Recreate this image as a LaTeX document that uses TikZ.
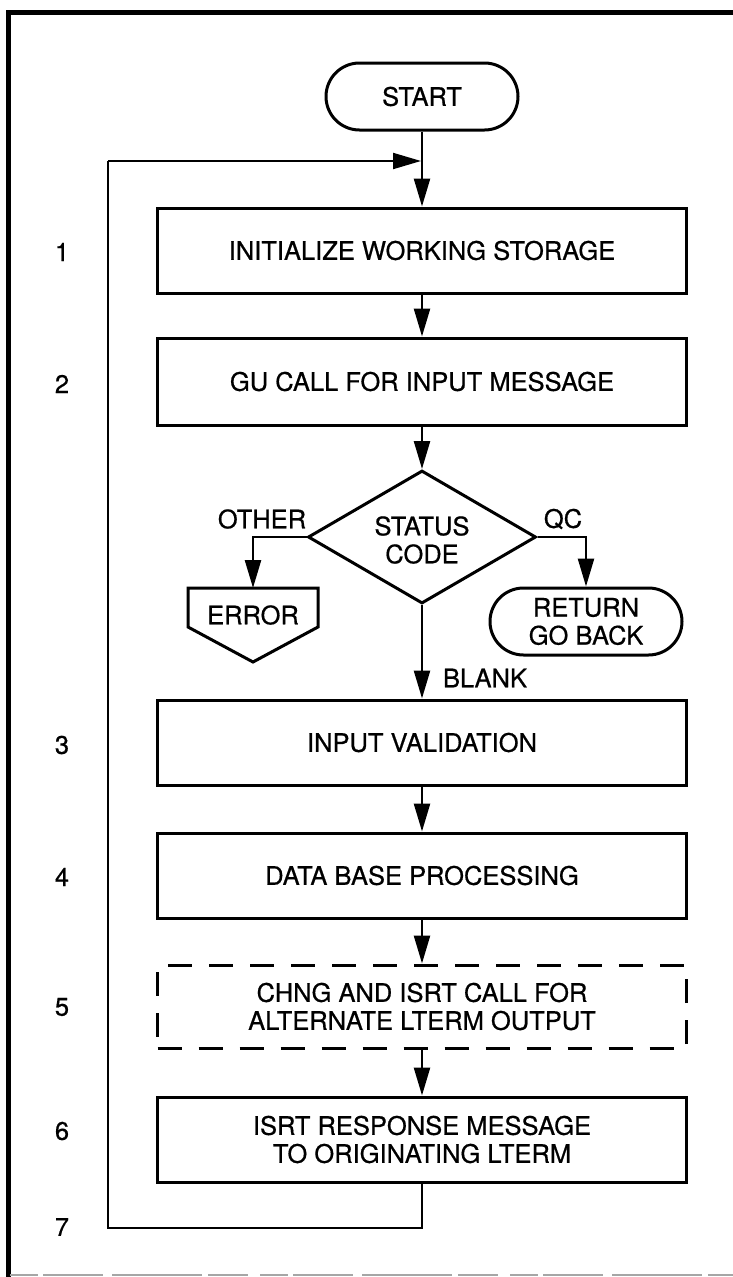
\documentclass[tikz,border=0pt]{standalone}
\usepackage{fontspec}
\setmainfont{TeX Gyre Heros}[FakeBold=0.6]
\usetikzlibrary{arrows.meta,shapes.geometric,shapes.misc}
\begin{document}
\begin{tikzpicture}[x=1pt,y=-1pt,
  txt/.style={font=\fontsize{25.5}{28}\selectfont, align=center, inner sep=0pt},
  procbox/.style={txt, draw, line width=3pt, minimum width=529pt, minimum height=85pt},
  dashbox/.style={procbox, dash pattern=on 24pt off 17pt, dash phase=0pt},
  termbox/.style={txt, draw, line width=3pt, rounded rectangle, minimum width=192pt, minimum height=67pt},
  decbox/.style={draw, line width=3pt, diamond, minimum width=228pt, minimum height=133pt, inner sep=0pt},
  arr/.style={line width=2.5pt, -{Triangle[length=28pt,width=16pt]}},
  loopline/.style={line width=2pt},
  numlab/.style={txt}
]
\useasboundingbox (0,0) rectangle (733,1277);
% frame
\draw[line width=5pt] (8,1277) -- (8,12) -- (733,12);
\draw[black!35, line width=2pt, dash pattern=on 28pt off 5pt on 60pt off 9pt on 90pt off 6pt on 40pt off 12pt] (10,1275) -- (733,1275);

% nodes
\node[termbox] (start) at (422,96.5) {START};
\node[procbox] (b1) at (422,250.5) {INITIALIZE WORKING STORAGE};
\node[procbox, minimum height=87pt] (b2) at (422,381.5) {GU CALL FOR INPUT MESSAGE};
\node[decbox] (dec) at (422,537) {};
\node[txt] (dectxt) at (422,540) {STATUS\\CODE};
\node[txt] (other) at (262,519) {OTHER};
\node[txt] (qc) at (563,519) {QC};
\node[txt] (err) at (253,615) {ERROR};
\coordinate (errtop) at (253,588);
\draw[line width=3pt, line join=miter] (188,588) -- (318,588) -- (318,627) -- (253,662) -- (188,627) -- cycle;
\node[termbox] (ret) at (586,621.5) {RETURN\\GO BACK};
\node[txt] (blank) at (485,678) {BLANK};
\node[procbox] (b3) at (422,742.5) {INPUT VALIDATION};
\node[procbox] (b4) at (422,875.5) {DATA BASE PROCESSING};
\node[dashbox, minimum height=83pt] (b5) at (422,1006.5) {CHNG AND ISRT CALL FOR\\ALTERNATE LTERM OUTPUT};
\node[procbox] (b6) at (422,1139.5) {ISRT RESPONSE MESSAGE\\TO ORIGINATING LTERM};

% step numbers
\node[numlab] (n1) at (62,252) {1};
\node[numlab] (n2) at (62,384) {2};
\node[numlab] (n3) at (62,745) {3};
\node[numlab] (n4) at (62,877) {4};
\node[numlab] (n5) at (62,1007) {5};
\node[numlab] (n6) at (62,1131) {6};
\node[numlab] (n7) at (62,1227) {7};

% connectors
\coordinate (join) at (422,161);
\coordinate (lb) at (108,1228);
\coordinate (lt) at (108,161);
\draw[arr] (start.south) -- (b1.north);
\draw[arr] (b1.south) -- (b2.north);
\draw[arr] (b2.south) -- (dec.north);
\draw[arr] (dec.west) -| (errtop);
\draw[arr] (dec.east) -| (ret.north);
\draw[arr] (dec.south) -- (b3.north);
\draw[arr] (b3.south) -- (b4.north);
\draw[arr] (b4.south) -- (b5.north);
\draw[arr] (b5.south) -- (b6.north);
\draw[loopline] (b6.south) |- (lb) -- (lt);
\draw[loopline, -{Triangle[length=28pt,width=16pt]}] (lt) -- ([xshift=-1pt]join);
\end{tikzpicture}
\end{document}
